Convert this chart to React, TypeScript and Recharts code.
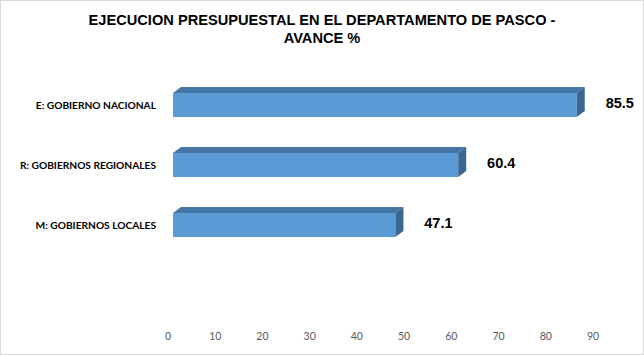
import React from 'react';
import { BarChart, Bar, XAxis, YAxis, LabelList } from 'recharts';

const categories = ['E: GOBIERNO NACIONAL', 'R: GOBIERNOS REGIONALES', 'M: GOBIERNOS LOCALES'];
const avance = [85.5, 60.4, 47.1];
const xTicks = [0, 10, 20, 30, 40, 50, 60, 70, 80, 90];

const data = categories.map((c, i) => ({ name: c, value: avance[i] }));

const DX = 8;
const DY = 6;

const Bar3D = (props: any) => {
  const { x, y, width, height } = props;
  if (width <= 0) return null;
  const top = `M${x},${y} L${x + DX},${y - DY} L${x + width + DX},${y - DY} L${x + width},${y} Z`;
  const side = `M${x + width},${y} L${x + width + DX},${y - DY} L${x + width + DX},${y + height - DY} L${x + width},${y + height} Z`;
  return (
    <g>
      <rect x={x} y={y} width={width} height={height} fill="#5B9BD5" />
      <path d={top} fill="#4676A6" />
      <path d={side} fill="#3B6690" />
    </g>
  );
};

const XTick = (props: any) => {
  const { x, y, payload } = props;
  return (
    <text x={x - 5} y={y} textAnchor="middle" dominantBaseline="central" fontSize={10.5} fill="#595959" fontFamily="Lato, sans-serif">
      {payload.value}
    </text>
  );
};

const YTick = (props: any) => {
  const { x, y, payload } = props;
  return (
    <text x={x} y={y} textAnchor="end" dominantBaseline="central" fontSize={10.2} fontWeight={700} fill="#000" fontFamily="Lato, sans-serif">
      {payload.value}
    </text>
  );
};

const ValueLabel = (props: any) => {
  const { x, y, width, height, value } = props;
  return (
    <text x={x + width + 43} y={y + height / 2 - 2} textAnchor="middle" dominantBaseline="central" fontSize={14.5} fontWeight="bold" fill="#000" fontFamily="'Liberation Sans', Arial, sans-serif">
      {value}
    </text>
  );
};

export default function App() {
  return (
    <div style={{ position: 'absolute', left: 0, top: 0, width: 644, height: 355, background: '#fff' }}>
      <div style={{ position: 'absolute', left: 0, top: 0, width: 642, height: 353, border: '1px solid #d9d9d9' }} />
      <div style={{ position: 'absolute', left: 0, top: 11, width: 644, textAlign: 'center', fontFamily: "'Liberation Sans', Arial, sans-serif", fontWeight: 'bold', fontSize: 15, lineHeight: '18px', color: '#000', transform: 'scaleX(0.975)' }}>
        EJECUCION PRESUPUESTAL EN EL DEPARTAMENTO DE PASCO -<br />AVANCE %
      </div>
      <div style={{ position: 'absolute', left: 0, top: 0 }}>
        <BarChart
          width={644}
          height={355}
          data={data}
          layout="vertical"
          margin={{ top: 75, right: 46, bottom: 0, left: 0 }}
          barCategoryGap="30%"
        >
          <XAxis
            type="number"
            domain={[0, 90]}
            ticks={xTicks}
            axisLine={false}
            tickLine={false}
            tickSize={0}
            tickMargin={81}
            height={100}
            tick={<XTick />}
            interval={0}
          />
          <YAxis
            type="category"
            dataKey="name"
            width={173}
            axisLine={false}
            tickLine={false}
            tickSize={0}
            tickMargin={17}
            tick={<YTick />}
          />
          <Bar dataKey="value" shape={<Bar3D />} isAnimationActive={false}>
            <LabelList dataKey="value" content={<ValueLabel />} />
          </Bar>
        </BarChart>
      </div>
    </div>
  );
}
